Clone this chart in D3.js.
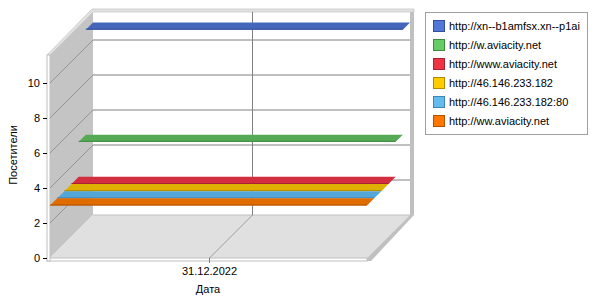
<!DOCTYPE html>
<html>
<head>
<meta charset="utf-8">
<script src="https://cdnjs.cloudflare.com/ajax/libs/d3/7.8.5/d3.min.js"></script>
<style>
  body { margin: 0; background: #fff; }
  text { font-family: "Liberation Sans", Arial, sans-serif; font-size: 11px; fill: #000; }
</style>
</head>
<body>
<div id="chart"></div>
<script>
//////////////////////////////////////////////
// data //////////////////////////////////////
//////////////////////////////////////////////
var categories = ["31.12.2022"];
var seriesNames = [
  "http://xn--b1amfsx.xn--p1ai",
  "http://w.aviacity.net",
  "http://www.aviacity.net",
  "http://46.146.233.182",
  "http://46.146.233.182:80",
  "http://ww.aviacity.net"
];
var seriesValues = [11, 5, 3, 3, 3, 3];
var yTicks = [0, 2, 4, 6, 8, 10];

// colori: legenda e nastri (faccia superiore piu' scura)
var legendColors = ["#5077d8", "#66cc66", "#ee3344", "#ffcc00", "#66bbee", "#ff7700"];
var ribbonColors = ["#4466bb", "#55aa55", "#d22e40", "#e0b000", "#55a6d8", "#e06c00"];
var edgeColors   = ["#334f99", "#3f8a3f", "#a82232", "#b08a00", "#3f86b6", "#b05400"];

//////////////////////////////////////////////
// Chart Config /////////////////////////////
//////////////////////////////////////////////
var width = 600, height = 300;
var plot = {left: 50, right: 367, top: 55, bottom: 258};
var depth = {x: 43, y: 43};   // spostamento prospettico del piano posteriore

var svg = d3.select("#chart").append("svg")
  .attr("width", width)
  .attr("height", height);

var xScale = d3.scaleBand().domain(categories).range([plot.left, plot.right]);
var yScale = d3.scaleLinear().domain([0, 11.6]).range([plot.bottom, plot.top]);

var pts = function(arr) { return arr.map(function(p) { return p.join(","); }).join(" "); };

// parete sinistra
svg.append("polygon")
  .attr("points", pts([[plot.left, plot.bottom], [plot.left, plot.top],
    [plot.left + depth.x, plot.top - depth.y], [plot.left + depth.x, plot.bottom - depth.y]]))
  .attr("fill", "#c4c4c4");

// parete posteriore
svg.append("rect")
  .attr("x", plot.left + depth.x)
  .attr("y", plot.top - depth.y)
  .attr("width", plot.right - plot.left)
  .attr("height", plot.bottom - plot.top)
  .attr("fill", "#fff");

// bordo destro parete posteriore
svg.append("rect")
  .attr("x", plot.right + depth.x)
  .attr("y", plot.top - depth.y - 2)
  .attr("width", 4)
  .attr("height", plot.bottom - plot.top + 2)
  .attr("fill", "#c0c0c0");

// bordo superiore (spessore) parete sinistra + posteriore
svg.append("polygon")
  .attr("points", pts([[plot.left - 3, plot.top], [plot.left + depth.x - 1, plot.top - depth.y - 3],
    [plot.right + depth.x + 4, plot.top - depth.y - 3], [plot.right + depth.x + 4, plot.top - depth.y],
    [plot.left + depth.x, plot.top - depth.y], [plot.left, plot.top]]))
  .attr("fill", "#e2e2e2")
  .attr("stroke", "#c8c8c8")
  .attr("stroke-width", 0.8);

// pavimento
svg.append("polygon")
  .attr("points", pts([[plot.left, plot.bottom], [plot.right, plot.bottom],
    [plot.right + depth.x, plot.bottom - depth.y], [plot.left + depth.x, plot.bottom - depth.y]]))
  .attr("fill", "#e0e0e0");

// bordo posteriore pavimento
svg.append("line")
  .attr("x1", plot.left + depth.x).attr("x2", plot.right + depth.x)
  .attr("y1", plot.bottom - depth.y).attr("y2", plot.bottom - depth.y)
  .attr("stroke", "#c0c0c0");

// spessore destro pavimento
svg.append("polygon")
  .attr("points", pts([[plot.right, plot.bottom], [plot.right + depth.x, plot.bottom - depth.y],
    [plot.right + depth.x + 4, plot.bottom - depth.y], [plot.right + 4, plot.bottom + 3], [plot.right, plot.bottom + 3]]))
  .attr("fill", "#c0c0c0");

// spessore frontale pavimento e parete sinistra
svg.append("rect")
  .attr("x", plot.left - 3).attr("y", plot.bottom)
  .attr("width", plot.right - plot.left + 3).attr("height", 3)
  .attr("fill", "#fff").attr("stroke", "#c0c0c0").attr("stroke-width", 1);
svg.append("rect")
  .attr("x", plot.left - 3).attr("y", plot.top)
  .attr("width", 3).attr("height", plot.bottom - plot.top + 3)
  .attr("fill", "#fff").attr("stroke", "#c0c0c0").attr("stroke-width", 1);

// griglia orizzontale: parete posteriore + diagonali parete sinistra
var grid = yTicks.filter(function(d) { return d > 0; });
svg.selectAll(".gridBack").data(grid).enter().append("line")
  .attr("class", "gridBack")
  .attr("x1", plot.left + depth.x).attr("x2", plot.right + depth.x)
  .attr("y1", function(d) { return yScale(d) - depth.y; })
  .attr("y2", function(d) { return yScale(d) - depth.y; })
  .attr("stroke", "#808080");
svg.selectAll(".gridSide").data(grid).enter().append("line")
  .attr("class", "gridSide")
  .attr("x1", plot.left).attr("x2", plot.left + depth.x)
  .attr("y1", function(d) { return yScale(d); })
  .attr("y2", function(d) { return yScale(d) - depth.y; })
  .attr("stroke", "#808080")
  .attr("stroke-width", 0.7);

// griglia verticale della categoria
categories.forEach(function(c) {
  var cx = Math.round(xScale(c) + xScale.bandwidth() / 2) + 0.5;
  svg.append("line")
    .attr("x1", cx + depth.x).attr("x2", cx + depth.x)
    .attr("y1", plot.top - depth.y).attr("y2", plot.bottom - depth.y)
    .attr("stroke", "#808080");
  svg.append("line")
    .attr("x1", cx + depth.x).attr("y1", plot.bottom - depth.y)
    .attr("x2", cx).attr("y2", plot.bottom)
    .attr("stroke", "#808080").attr("stroke-width", 0.7);
  svg.append("line")
    .attr("x1", cx).attr("x2", cx)
    .attr("y1", plot.bottom).attr("y2", plot.bottom + 5)
    .attr("stroke", "#808080");
  svg.append("text")
    .attr("x", cx).attr("y", 275)
    .attr("text-anchor", "middle")
    .text(c);
});

// nastri delle serie: dal piu' lontano al piu' vicino
var n = seriesNames.length;
var step = {x: depth.x / n, y: depth.y / n};
seriesValues.forEach(function(v, i) {
  var k = n - 1 - i;
  var yf = yScale(v) - k * step.y;
  var xa = plot.left + k * step.x, xb = plot.right + k * step.x;
  svg.append("polygon")
    .attr("points", pts([[xa, yf], [xb, yf], [xb + step.x, yf - step.y], [xa + step.x, yf - step.y]]))
    .attr("fill", ribbonColors[i]);
  svg.append("line")
    .attr("x1", xa).attr("x2", xb)
    .attr("y1", yf - 0.5).attr("y2", yf - 0.5)
    .attr("stroke", edgeColors[i]);
});

// asse Y: tacche ed etichette
svg.selectAll(".ytick").data(yTicks).enter().append("line")
  .attr("class", "ytick")
  .attr("x1", plot.left - 7).attr("x2", plot.left - 3)
  .attr("y1", function(d) { return Math.round(yScale(d)) + 0.5; })
  .attr("y2", function(d) { return Math.round(yScale(d)) + 0.5; })
  .attr("stroke", "#000");
svg.selectAll(".ylabel").data(yTicks).enter().append("text")
  .attr("class", "ylabel")
  .attr("x", 40)
  .attr("y", function(d) { return yScale(d) + 4; })
  .attr("text-anchor", "end")
  .text(function(d) { return d; });

// titoli assi
svg.append("text")
  .attr("x", 208).attr("y", 293)
  .attr("text-anchor", "middle")
  .text("Дата");
svg.append("text")
  .attr("transform", "translate(17,155) rotate(-90)")
  .attr("text-anchor", "middle")
  .text("Посетители");

// legenda
var legend = svg.append("g").attr("transform", "translate(425,12)");
legend.append("rect")
  .attr("x", 0.5).attr("y", 0.5)
  .attr("width", 162).attr("height", 122)
  .attr("fill", "#fff").attr("stroke", "#a0a0a0");
var item = legend.selectAll(".item").data(seriesNames).enter().append("g")
  .attr("class", "item")
  .attr("transform", function(d, i) { return "translate(0," + (i * 19) + ")"; });
item.append("rect")
  .attr("x", 8.5).attr("y", 8.5)
  .attr("width", 11).attr("height", 11)
  .attr("fill", function(d, i) { return legendColors[i]; })
  .attr("stroke", function(d, i) { return edgeColors[i]; });
item.append("text")
  .attr("x", 24).attr("y", 18)
  .text(function(d) { return d; });
</script>
</body>
</html>
